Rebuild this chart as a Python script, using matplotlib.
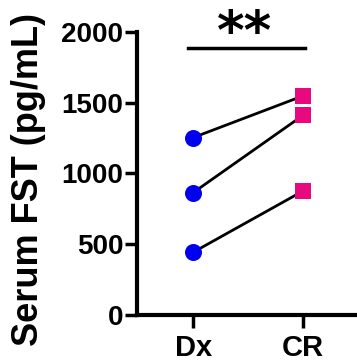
import matplotlib
matplotlib.use("Agg")
import matplotlib.pyplot as plt

plt.rcParams['font.family'] = ['Liberation Sans', 'DejaVu Sans']
plt.rcParams['font.weight'] = 'bold'

groups = ["Dx", "CR"]
dx_vals = [1253, 864, 443]
cr_vals = [1548, 1411, 876]
yticks = [0, 500, 1000, 1500, 2000]

fig = plt.figure(figsize=(3.57, 3.62), dpi=100)
ax = fig.add_axes([0.384, 0.130, 0.616, 0.782])

for a, b in zip(dx_vals, cr_vals):
    ax.plot([0, 1], [a, b], color="black", lw=2, zorder=2)
ax.scatter([0] * len(dx_vals), dx_vals, s=150, color="#0000ee", marker="o", zorder=3, linewidths=0)
ax.scatter([1] * len(cr_vals), cr_vals, s=120, color="#e8097f", marker="s", zorder=3, linewidths=0)

# significance bar
ax.plot([-0.05, 1.02], [1884, 1884], color="black", lw=2.5, clip_on=False)
ax.text(0.465, 1985, "**", ha="center", va="center", fontsize=38,
        family="DejaVu Sans", fontweight="bold")

ax.set_xlim(-0.51, 1.49)
ax.set_ylim(0, 2000)
ax.set_xticks([0, 1])
ax.set_xticklabels(groups)
ax.set_yticks(yticks)
ax.set_ylabel("Serum FST (pg/mL)", fontsize=26, fontweight="bold")
ax.yaxis.set_label_coords(-0.414, 0.477)
ax.tick_params(width=2.5, length=9, labelsize=20, pad=1)
ax.tick_params(axis="x", labelsize=21, pad=5)
for s in ["top", "right"]:
    ax.spines[s].set_visible(False)
for s in ["left", "bottom"]:
    ax.spines[s].set_linewidth(3)

fig.savefig("out.png", dpi=100)
